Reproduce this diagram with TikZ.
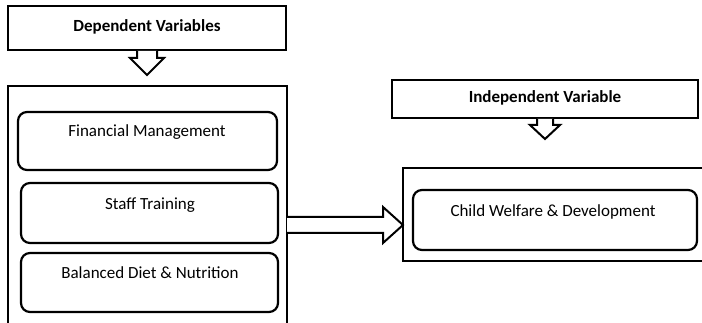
\documentclass[tikz,border=0pt]{standalone}
\usepackage{fontspec}
\setmainfont{Carlito}
\begin{document}
\begin{tikzpicture}[x=1pt,y=-1pt,
  outbox/.style={draw=black,line width=2pt,fill=white,inner sep=0pt},
  inbox/.style={draw=black,line width=2.2pt,rounded corners=9pt,fill=white,inner sep=0pt},
  lbl/.style={font=\fontsize{17}{20}\selectfont,inner sep=0pt},
  hdr/.style={font=\fontsize{17}{20}\selectfont\bfseries,inner sep=0pt},
  barrow/.style={draw=black,line width=2pt,fill=white,line join=miter}]
\useasboundingbox (0,0) rectangle (702,323);
\begin{scope}
\clip (0,0) rectangle (702,323);
% Dependent header
\node[outbox,minimum width=278pt,minimum height=44pt] (dv) at (147,28) {};
\node[hdr] at (147,27) {Dependent Variables};
% big left box
\draw[line width=2pt] (8,86) rectangle (287,330);
% inner boxes
\node[inbox,minimum width=259pt,minimum height=58pt] (fm) at (147.5,141) {};
\node[lbl] at (147,132) {Financial Management};
\node[inbox,minimum width=257pt,minimum height=60pt] (st) at (149.5,213) {};
\node[lbl] at (150,205) {Staff Training};
\node[inbox,minimum width=257pt,minimum height=59pt] (bd) at (149.5,282.5) {};
\node[lbl] at (150,273) {Balanced Diet \& Nutrition};
% Independent header
\node[outbox,minimum width=306pt,minimum height=38pt] (iv) at (545,99) {};
\node[hdr] at (545,98) {Independent Variable};
% right outer box
\draw[line width=2pt] (403,168) rectangle (710,261);
\coordinate (rightleft) at (403,225);
\node[inbox,minimum width=284pt,minimum height=60pt] (cw) at (555,220) {};
\node[lbl] at (553,212) {Child Welfare \& Development};
% block arrow down from dv
\draw[barrow] ([xshift=-10pt]dv.south) -- ++(0,7) -- ++(-7,0) -- ++(17,17) -- ++(17,-17) -- ++(-7,0) -- ([xshift=10pt]dv.south);
% block arrow down from iv
\draw[barrow] ([xshift=-8pt]iv.south) -- ++(0,6) -- ++(-7,0) -- ++(15,14) -- ++(15,-14) -- ++(-7,0) -- ([xshift=8pt]iv.south);
% block arrow right
\draw[barrow] (287,217) -- (383,217) -- (383,207) -- (rightleft) -- (383,243) -- (383,233) -- (287,233);
\end{scope}
\end{tikzpicture}
\end{document}
